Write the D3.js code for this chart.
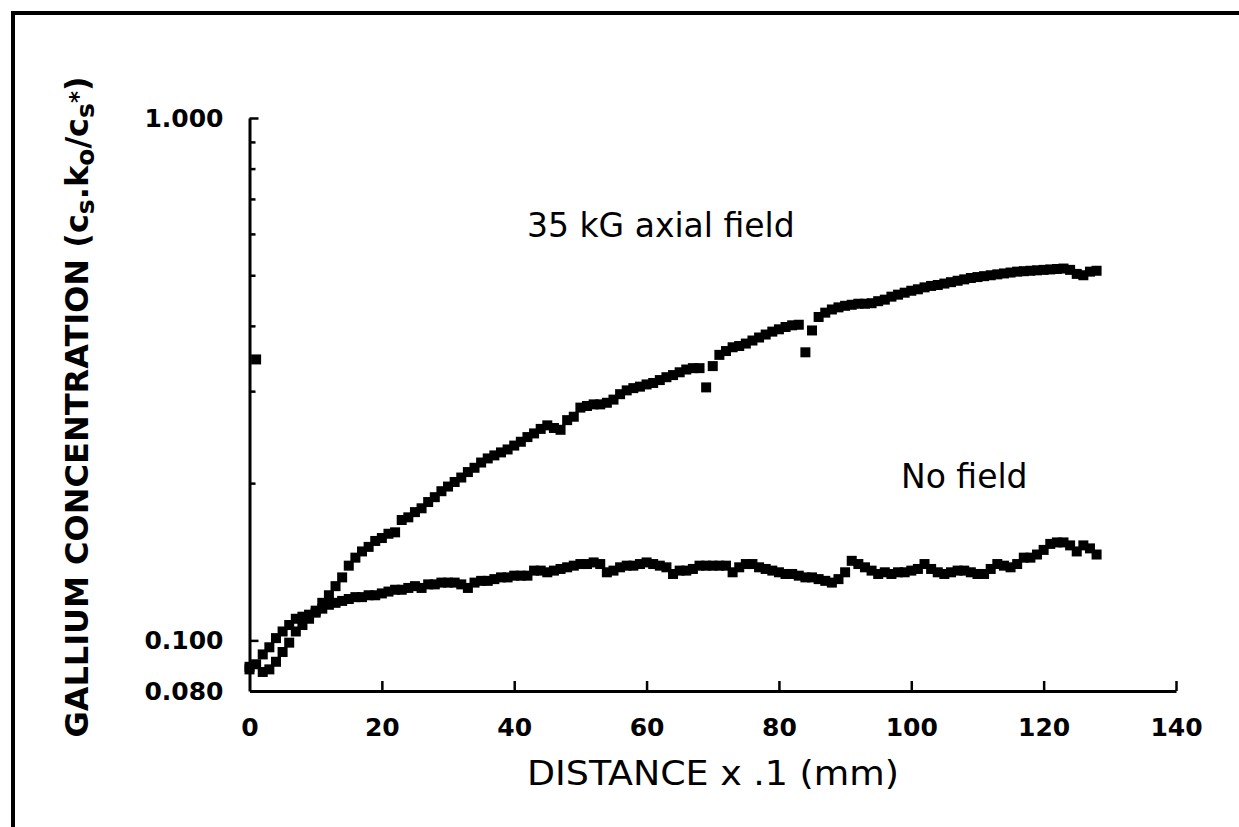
<!DOCTYPE html>
<html>
<head>
<meta charset="utf-8">
<script src="https://cdn.jsdelivr.net/npm/d3@7"></script>
<style>
  body { margin: 0; background: #fff; }
  svg { display: block; }
</style>
</head>
<body>
<svg id="chart" width="1239" height="827"></svg>
<script>
// distance x .1 mm (one reading per unit)
const distance = d3.range(0, 129);

// 35 kG axial field (index = distance)
const axialField = [
  0.088, 0.345, 0.087, 0.088, 0.091, 0.095, 0.099, 0.104, 0.107, 0.110,
  0.114, 0.118, 0.122, 0.127, 0.132, 0.139, 0.144, 0.148, 0.151, 0.155,
  0.157, 0.160, 0.161, 0.170, 0.172, 0.176, 0.179, 0.184, 0.188, 0.193,
  0.197, 0.201, 0.205, 0.210, 0.214, 0.219, 0.223, 0.226, 0.229, 0.232,
  0.236, 0.240, 0.245, 0.249, 0.254, 0.258, 0.255, 0.253, 0.264, 0.268,
  0.279, 0.281, 0.283, 0.283, 0.285, 0.289, 0.296, 0.301, 0.304, 0.306,
  0.309, 0.311, 0.315, 0.319, 0.322, 0.326, 0.330, 0.332, 0.332, 0.305,
  0.335, 0.352, 0.358, 0.364, 0.366, 0.370, 0.375, 0.380, 0.385, 0.390,
  0.394, 0.398, 0.401, 0.402, 0.356, 0.392, 0.416, 0.424, 0.430, 0.434,
  0.437, 0.439, 0.441, 0.441, 0.442, 0.446, 0.449, 0.455, 0.459, 0.463,
  0.467, 0.470, 0.474, 0.477, 0.479, 0.482, 0.485, 0.488, 0.491, 0.494,
  0.496, 0.498, 0.500, 0.502, 0.504, 0.506, 0.508, 0.509, 0.510, 0.511,
  0.512, 0.513, 0.514, 0.515, 0.512, 0.503, 0.500, 0.508, 0.510
];

// no field
const noField = [
  0.089, 0.090, 0.094, 0.097, 0.101, 0.104, 0.107, 0.110, 0.111, 0.112,
  0.113, 0.115, 0.117, 0.118, 0.119, 0.120, 0.121, 0.121, 0.122, 0.122,
  0.123, 0.124, 0.125, 0.125, 0.126, 0.127, 0.126, 0.128, 0.128, 0.129,
  0.129, 0.129, 0.128, 0.126, 0.129, 0.130, 0.130, 0.131, 0.132, 0.132,
  0.133, 0.133, 0.133, 0.136, 0.136, 0.135, 0.136, 0.137, 0.138, 0.139,
  0.140, 0.140, 0.141, 0.140, 0.135, 0.136, 0.138, 0.139, 0.139, 0.140,
  0.141, 0.140, 0.139, 0.138, 0.134, 0.136, 0.136, 0.137, 0.139, 0.139,
  0.139, 0.139, 0.139, 0.135, 0.138, 0.140, 0.140, 0.138, 0.137, 0.136,
  0.135, 0.134, 0.134, 0.133, 0.132, 0.132, 0.131, 0.130, 0.129, 0.131,
  0.135, 0.142, 0.140, 0.138, 0.136, 0.134, 0.135, 0.134, 0.135, 0.135,
  0.136, 0.137, 0.140, 0.137, 0.135, 0.134, 0.135, 0.136, 0.136, 0.135,
  0.134, 0.134, 0.137, 0.140, 0.139, 0.138, 0.140, 0.144, 0.144, 0.146,
  0.149, 0.153, 0.154, 0.154, 0.152, 0.148, 0.152, 0.150, 0.146
];

const xTicks = [0, 20, 40, 60, 80, 100, 120, 140];
const yTicks = [0.08, 0.1, 0.2, 0.3, 0.4, 0.5, 0.6, 0.7, 0.8, 0.9, 1.0];
const yLabelled = [0.08, 0.1, 1.0];

const svg = d3.select('#chart');

// scanned page frame (left + top edge)
svg.append('path')
  .attr('d', 'M13,827 L13,13 L1239,13')
  .attr('fill', 'none')
  .attr('stroke', '#000')
  .attr('stroke-width', 4);

const x = d3.scaleLinear().domain([0, 140]).range([249.5, 1176]);
const y = d3.scaleLog().domain([0.08, 1]).range([691, 118]);

// y axis, ticks point inwards
const yAxis = svg.append('g')
  .attr('transform', `translate(${x(0)},0)`)
  .call(d3.axisLeft(y)
    .tickValues(yTicks)
    .tickSizeInner(-6)
    .tickSizeOuter(0)
    .tickPadding(26)
    .tickFormat(d => yLabelled.includes(d) ? d3.format('.3f')(d) : ''));

yAxis.select('.domain').attr('stroke-width', 3);
yAxis.selectAll('.tick line').attr('stroke-width', 2.5);
yAxis.selectAll('.tick line').filter(d => d === 1 || d === 0.1).attr('x2', 9);
yAxis.selectAll('.tick').filter(d => d === 0.08).select('line').remove();
yAxis.selectAll('text')
  .style('font-family', 'DejaVu Sans, sans-serif')
  .style('font-size', '25px')
  .style('font-weight', 'bold')
  .attr('fill', '#000');

// x axis, ticks point upwards
const xAxis = svg.append('g')
  .attr('transform', `translate(0,${y(0.08)})`)
  .call(d3.axisBottom(x)
    .tickValues(xTicks)
    .tickSizeInner(-10)
    .tickSizeOuter(0)
    .tickPadding(27));

xAxis.select('.domain').attr('stroke-width', 3);
xAxis.selectAll('.tick line').attr('stroke-width', 2.5);
xAxis.selectAll('.tick').filter(d => d === 0).select('line').remove();
xAxis.selectAll('text')
  .style('font-family', 'DejaVu Sans, sans-serif')
  .style('font-size', '25px')
  .style('font-weight', 'bold')
  .attr('fill', '#000');

// data squares
const size = 10;
function drawSeries(values) {
  svg.append('g')
    .selectAll('rect')
    .data(values)
    .join('rect')
    .attr('x', (d, i) => x(distance[i]) - size / 2)
    .attr('y', d => y(d) - size / 2)
    .attr('width', size)
    .attr('height', size)
    .attr('fill', '#000');
}
drawSeries(axialField);
drawSeries(noField);

// annotations
svg.append('text')
  .attr('x', 527)
  .attr('y', 237)
  .style('font-family', 'DejaVu Sans, sans-serif')
  .style('font-size', '33px')
  .text('35 kG axial field');

svg.append('text')
  .attr('x', 901)
  .attr('y', 488)
  .style('font-family', 'DejaVu Sans, sans-serif')
  .style('font-size', '33px')
  .text('No field');

// axis titles
svg.append('text')
  .attr('x', 713)
  .attr('y', 785)
  .attr('text-anchor', 'middle')
  .attr('textLength', 372)
  .attr('lengthAdjust', 'spacingAndGlyphs')
  .style('font-family', 'DejaVu Sans Condensed, Liberation Sans Narrow, sans-serif')
  .style('font-size', '34px')
  .text('DISTANCE x .1 (mm)');

const yTitle = svg.append('text')
  .attr('transform', 'translate(88,407) rotate(-90)')
  .attr('text-anchor', 'middle')
  .style('font-family', 'DejaVu Sans, sans-serif')
  .style('font-size', '32px')
  .style('font-weight', 'bold');

yTitle.append('tspan').text('GALLIUM CONCENTRATION (c');
yTitle.append('tspan').attr('baseline-shift', '-25%').style('font-size', '25px').text('s');
yTitle.append('tspan').text('.k');
yTitle.append('tspan').attr('baseline-shift', '-25%').style('font-size', '25px').text('o');
yTitle.append('tspan').text('/c');
yTitle.append('tspan').attr('baseline-shift', '-25%').style('font-size', '25px').text('s');
yTitle.append('tspan').attr('baseline-shift', '10%').style('font-size', '23px').text('*');
yTitle.append('tspan').text(')');
</script>
</body>
</html>
